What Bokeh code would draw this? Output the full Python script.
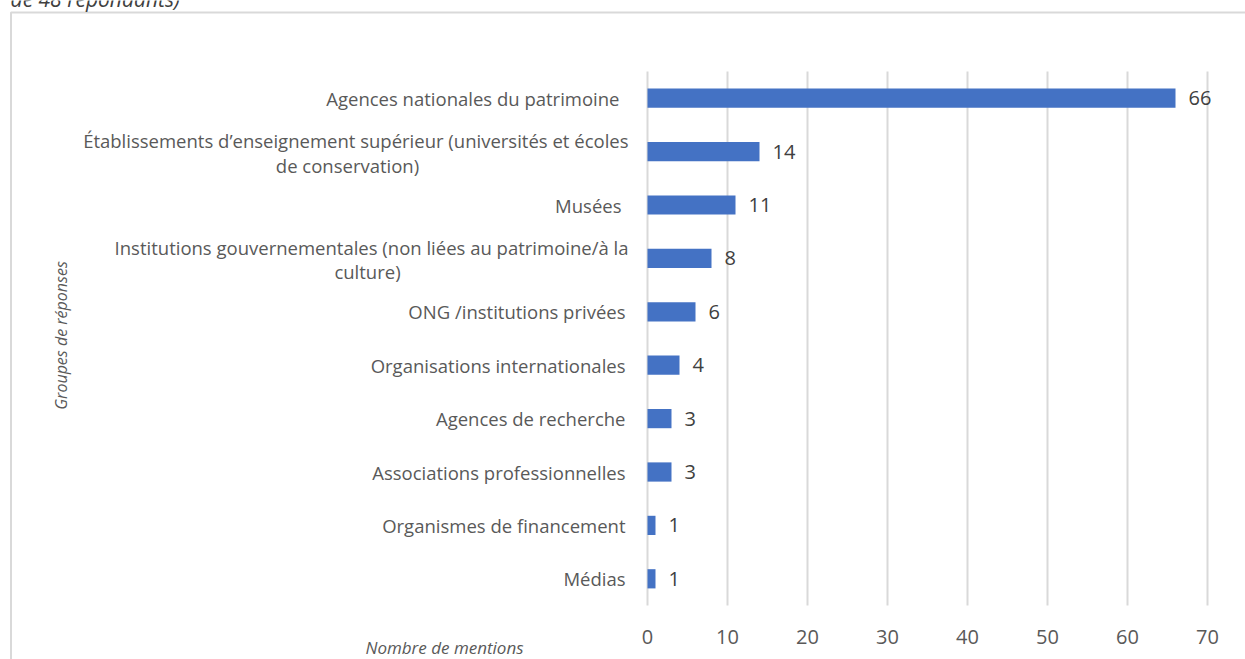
from bokeh.plotting import figure
from bokeh.models import ColumnDataSource, Range1d, Label
from bokeh.core.properties import value
from bokeh.embed import file_html
from bokeh.resources import INLINE
import math

# ---- data ----
categories = [
    "Agences nationales du patrimoine",
    "Établissements d’enseignement supérieur (universités et écoles|de conservation)",
    "Musées",
    "Institutions gouvernementales (non liées au patrimoine/à la|culture)",
    "ONG /institutions privées",
    "Organisations internationales",
    "Agences de recherche",
    "Associations professionnelles",
    "Organismes de financement",
    "Médias",
]
counts = [66, 14, 11, 8, 6, 4, 3, 3, 1, 1]
x_ticks = [0, 10, 20, 30, 40, 50, 60, 70]

FONT = "Open Sans"
GREY = "#595959"
DARK = "#404040"

W, H = 1245, 659
FL, FT, FB = 647, 71, 605    # where value 0 / first row top / last row bottom sit (px)
PX = 8                       # px per unit on x
n = len(categories)
row_px = (FB - FT) / n


def xdata(px):
    return (px - FL) / PX


def ydata(py):
    return (py - FT) / row_px - 0.5


p = figure(width=W, height=H, output_backend="svg", toolbar_location=None,
           x_range=Range1d(xdata(0), xdata(W)), y_range=Range1d(ydata(H), ydata(0)),
           x_axis_location=None, y_axis_location=None,
           min_border=0, min_border_left=0, min_border_right=0,
           min_border_top=0, min_border_bottom=0)
p.outline_line_color = None
p.background_fill_color = "white"
p.border_fill_color = "white"
p.xgrid.visible = False
p.ygrid.visible = False

idx = list(range(n))

# vertical gridlines at the value ticks, spanning the category band
p.segment(x0=x_ticks, x1=x_ticks, y0=[-0.5] * len(x_ticks), y1=[n - 0.5] * len(x_ticks),
          line_color="#D9D9D9", line_width=2)

src = ColumnDataSource(dict(y=idx, v=counts, t=[str(c) for c in counts]))
p.hbar(y="y", right="v", left=0, height=0.36, source=src,
       fill_color="#4472C4", line_color=None)
p.text(x="v", y="y", text="t", source=src, x_offset=13, text_align="left",
       text_baseline="middle", text_font=value(FONT), text_font_size="20px",
       text_color=DARK)

# value-axis tick labels
p.text(x=x_ticks, y=[ydata(636)] * len(x_ticks), text=[str(t) for t in x_ticks],
       text_align="center", text_baseline="middle", text_font=value(FONT),
       text_font_size="20px", text_color=GREY)


def lab(px, y, text, align="right", size="18.5px", style="normal", angle=0,
        baseline="middle", color=GREY):
    p.add_layout(Label(x=xdata(px), y=y, text=text, angle=angle,
                       text_align=align, text_baseline=baseline,
                       text_font=FONT, text_font_size=size,
                       text_font_style=style, text_color=color))


# category labels (the first and third carry a trailing space in the source)
trail = {0: 6, 2: 4}
for i, cat in enumerate(categories):
    parts = cat.split("|")
    if len(parts) == 1:
        lab(625 - trail.get(i, 0), i, cat)
    else:
        lab(628, i - 11 / row_px, parts[0])
        cx = 347 if i == 1 else 367
        lab(cx, i + 13.5 / row_px, parts[1], align="center")

# axis titles
lab(444, ydata(647), "Nombre de mentions", align="center", size="17px", style="italic")
lab(60, ydata(335), "Groupes de réponses", align="center", size="16px",
    style="italic", angle=math.pi / 2)
# cut-off caption from above
lab(10, ydata(-2), "de 48 répondants)", align="left", size="21px", style="italic",
    baseline="alphabetic", color=DARK)

# chart border box (top and left edges)
p.line(x=[xdata(10.5), xdata(10.5), xdata(1300)], y=[ydata(700), ydata(12), ydata(12)],
       line_color="#D9D9D9", line_width=2)

open("out.html", "w").write(file_html(p, INLINE))
